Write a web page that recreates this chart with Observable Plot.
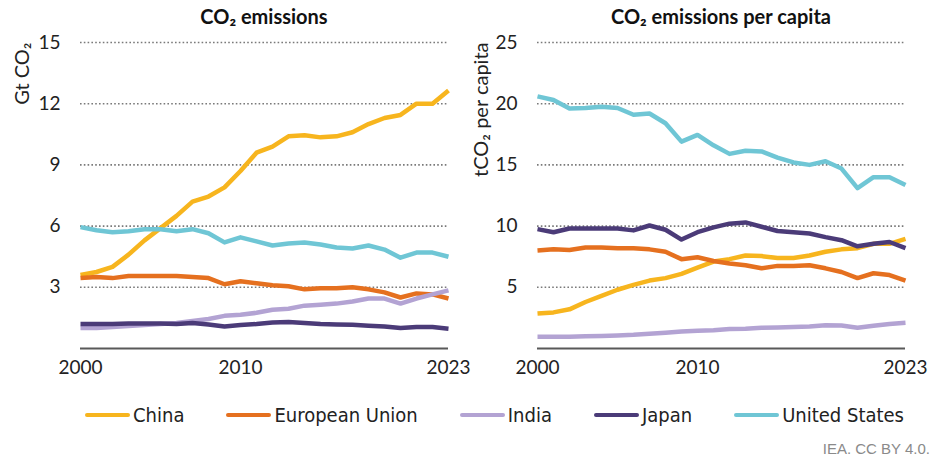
<!DOCTYPE html>
<html>
<head>
<meta charset="utf-8">
<script src="https://cdn.jsdelivr.net/npm/d3@7"></script>
<script src="https://cdn.jsdelivr.net/npm/@observablehq/plot@0.6"></script>
<style>
  html, body { margin: 0; padding: 0; background: #fff; }
  body { width: 945px; height: 462px; position: relative; font-family: Lato, "Open Sans", sans-serif; color: #222; overflow: hidden; }
  #charts { display: flex; flex-direction: row; }
  .panel { position: relative; }
  .title { height: 28px; box-sizing: border-box; padding-top: 4px; line-height: 24px; font-weight: bold; font-size: 20px; text-align: center; color: #111; }
  #legend { position: absolute; top: 403px; left: 85px; display: flex; align-items: center; gap: 42px; font-family: "Liberation Sans Narrow", "DejaVu Sans Condensed", Lato, sans-serif; font-size: 20px; color: #222; }
  .item { display: flex; align-items: center; }
  .sw { display: inline-block; width: 45px; height: 4px; border-radius: 2px; margin-right: 3px; }
  #caption { position: absolute; top: 440px; right: 15px; font-family: "Liberation Sans Narrow", "Liberation Sans", Arial, sans-serif; font-size: 15px; color: #8a8a8a; }
</style>
</head>
<body>
<div id="charts"></div>
<div id="legend"></div>
<div id="caption">IEA. CC BY 4.0.</div>
<script>
const years = d3.range(2000, 2024);
const countries = ["China", "European Union", "India", "Japan", "United States"];
const colors = ["#F7B51E", "#E5701F", "#B3A3D3", "#4B3B78", "#6FC6D5"];

// CO2 emissions (Gt CO2)
const chinaTotal = [3.6, 3.75, 4.0, 4.6, 5.3, 5.9, 6.5, 7.2, 7.45, 7.9, 8.7, 9.6, 9.9, 10.4, 10.45, 10.35, 10.4, 10.6, 11.0, 11.3, 11.45, 12.0, 12.0, 12.65];
const euTotal = [3.45, 3.5, 3.45, 3.55, 3.55, 3.55, 3.55, 3.5, 3.45, 3.15, 3.3, 3.2, 3.1, 3.05, 2.9, 2.95, 2.95, 3.0, 2.9, 2.75, 2.5, 2.7, 2.65, 2.45];
const indiaTotal = [1.0, 1.0, 1.05, 1.1, 1.15, 1.2, 1.25, 1.35, 1.45, 1.6, 1.65, 1.75, 1.9, 1.95, 2.1, 2.15, 2.2, 2.3, 2.45, 2.45, 2.2, 2.45, 2.65, 2.85];
const japanTotal = [1.2, 1.2, 1.2, 1.22, 1.22, 1.22, 1.2, 1.25, 1.18, 1.08, 1.15, 1.2, 1.27, 1.3, 1.25, 1.2, 1.18, 1.17, 1.12, 1.08, 1.0, 1.05, 1.05, 0.97];
const usTotal = [5.95, 5.8, 5.7, 5.75, 5.85, 5.85, 5.75, 5.85, 5.65, 5.2, 5.45, 5.25, 5.05, 5.15, 5.2, 5.1, 4.95, 4.9, 5.05, 4.85, 4.45, 4.7, 4.7, 4.5];

// CO2 emissions per capita (t CO2 per capita)
const chinaPc = [2.85, 2.95, 3.2, 3.8, 4.3, 4.8, 5.2, 5.55, 5.75, 6.1, 6.6, 7.1, 7.3, 7.6, 7.55, 7.4, 7.4, 7.6, 7.9, 8.1, 8.2, 8.55, 8.55, 8.95];
const euPc = [8.0, 8.1, 8.05, 8.25, 8.25, 8.2, 8.2, 8.1, 7.9, 7.3, 7.45, 7.15, 6.95, 6.8, 6.55, 6.75, 6.75, 6.8, 6.55, 6.25, 5.75, 6.15, 6.0, 5.55];
const indiaPc = [0.95, 0.95, 0.97, 1.0, 1.03, 1.07, 1.12, 1.2, 1.28, 1.38, 1.45, 1.5, 1.6, 1.62, 1.7, 1.72, 1.75, 1.8, 1.9, 1.88, 1.7, 1.85, 2.0, 2.1];
const japanPc = [9.75, 9.5, 9.8, 9.8, 9.8, 9.8, 9.65, 10.05, 9.7, 8.9, 9.5, 9.9, 10.2, 10.3, 9.95, 9.6, 9.5, 9.4, 9.1, 8.85, 8.35, 8.55, 8.7, 8.2];
const usPc = [20.6, 20.3, 19.6, 19.65, 19.75, 19.65, 19.1, 19.2, 18.4, 16.9, 17.45, 16.6, 15.9, 16.15, 16.1, 15.6, 15.2, 15.0, 15.3, 14.7, 13.1, 14.0, 14.0, 13.35];

const xTicks = [2000, 2010, 2023];
const leftTicks = [3, 6, 9, 12, 15];
const rightTicks = [5, 10, 15, 20, 25];

function toRows(series) {
  const rows = [];
  countries.forEach((c, i) => years.forEach((y, j) => rows.push({country: c, year: y, value: series[i][j]})));
  return rows;
}
const totalRows = toRows([chinaTotal, euTotal, indiaTotal, japanTotal, usTotal]);
const pcRows = toRows([chinaPc, euPc, indiaPc, japanPc, usPc]);

function makePanel({title, rows, yDomain, yTicks, ylabel, width, marginLeft, marginRight, labelDx}) {
  const panel = document.createElement("div");
  panel.className = "panel";
  panel.style.width = width + "px";
  const t = document.createElement("div");
  t.className = "title";
  t.style.paddingLeft = marginLeft + "px";
  t.style.paddingRight = marginRight + "px";
  t.innerHTML = title;
  panel.appendChild(t);
  const chart = Plot.plot({
    width, height: 355,
    marginLeft, marginRight, marginTop: 14, marginBottom: 35,
    style: {fontFamily: "Lato, 'Open Sans', sans-serif", fontSize: "19px", color: "#222", background: "transparent", overflow: "visible"},
    x: {domain: [2000, 2023], ticks: xTicks, tickFormat: d => String(d), tickSize: 0, tickPadding: 12, label: null},
    y: {domain: yDomain, ticks: yTicks, tickSize: 0, tickPadding: 20, label: null},
    color: {domain: countries, range: colors},
    marks: [
      Plot.gridY(yTicks, {stroke: "#7a7a7a", strokeOpacity: 1, strokeWidth: 1.6, strokeDasharray: "1.6 2.2"}),
      Plot.ruleY([0], {stroke: "#595959", strokeWidth: 2}),
      Plot.line(rows, {x: "year", y: "value", z: "country", stroke: "country", strokeWidth: 4.5, strokeLinejoin: "round", strokeLinecap: "butt"}),
      Plot.text([ylabel], {text: d => d, frameAnchor: "top-left", rotate: -90, textAnchor: "end", dx: labelDx, dy: 0, fontSize: 20, fill: "#222"})
    ]
  });
  panel.appendChild(chart);
  return panel;
}

const charts = document.getElementById("charts");
charts.appendChild(makePanel({title: "CO\u2082 emissions", rows: totalRows, yDomain: [0, 15], yTicks: leftTicks, ylabel: "Gt CO\u2082", width: 472, marginLeft: 80, marginRight: 24, labelDx: -66}));
charts.appendChild(makePanel({title: "CO\u2082 emissions per capita", rows: pcRows, yDomain: [0, 25], yTicks: rightTicks, ylabel: "tCO\u2082 per capita", width: 473, marginLeft: 65, marginRight: 40, labelDx: -64}));

const legend = document.getElementById("legend");
countries.forEach((c, i) => {
  const item = document.createElement("div");
  item.className = "item";
  const sw = document.createElement("span");
  sw.className = "sw";
  sw.style.background = colors[i];
  const label = document.createElement("span");
  label.textContent = c;
  item.appendChild(sw);
  item.appendChild(label);
  legend.appendChild(item);
});
</script>
</body>
</html>
